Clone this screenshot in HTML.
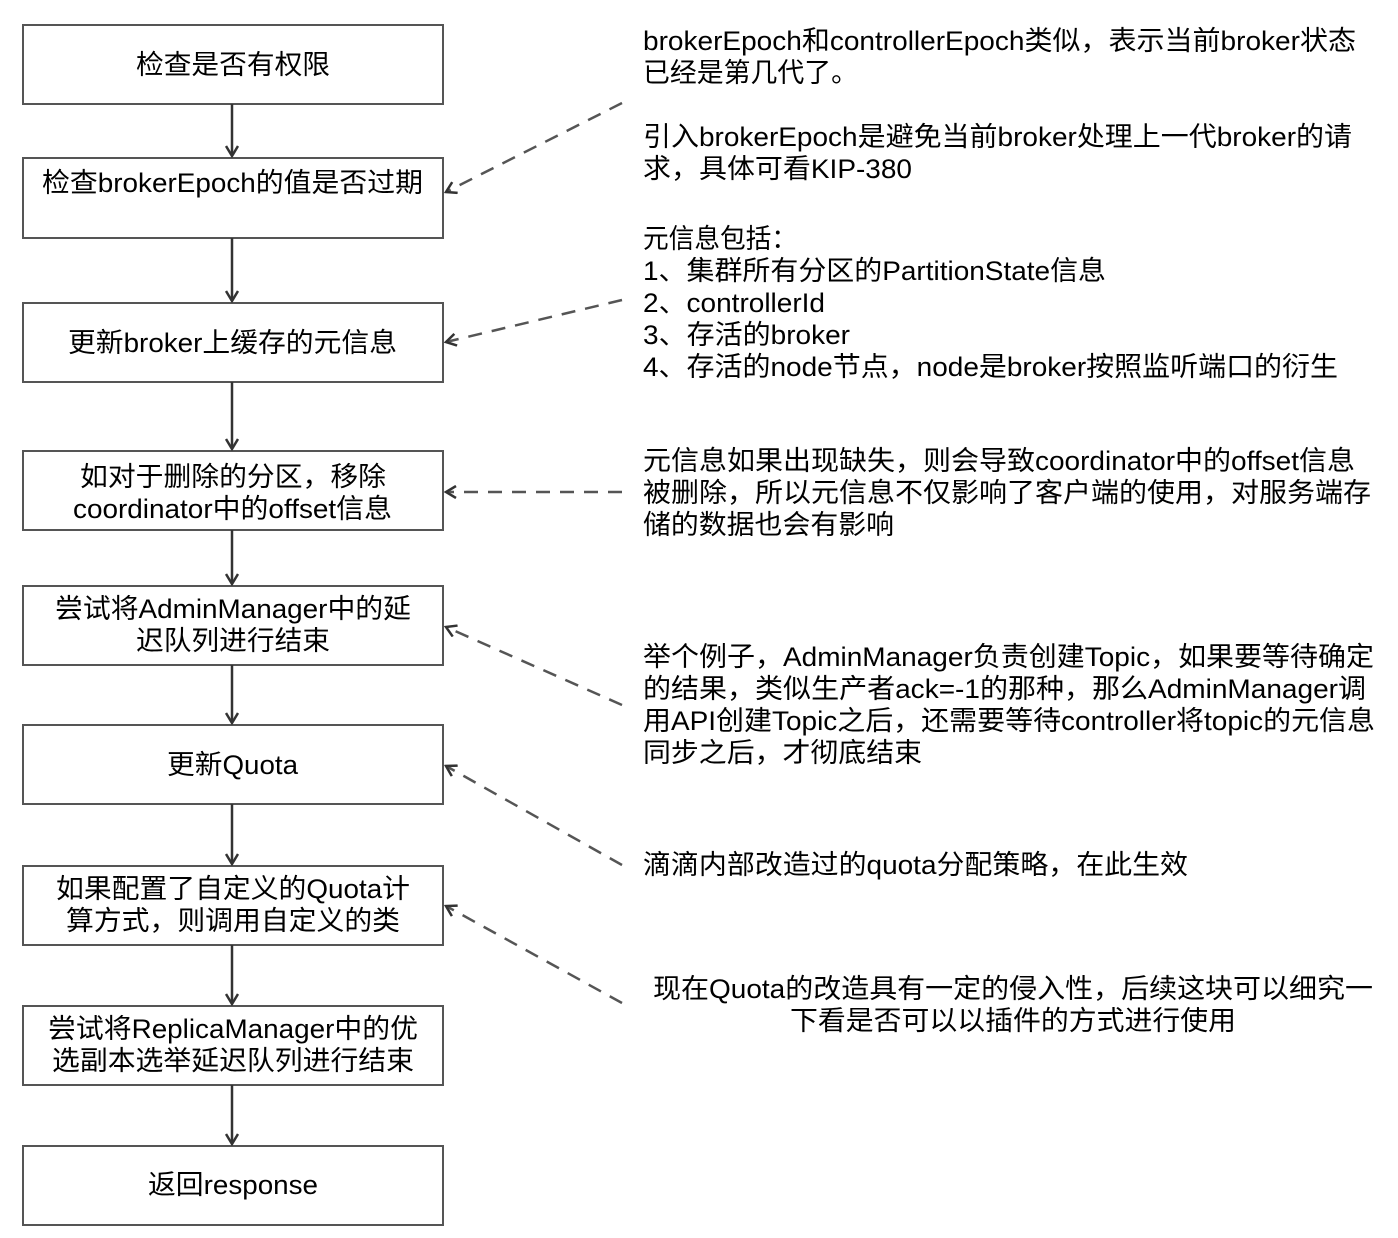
<!DOCTYPE html>
<html><head><meta charset="utf-8"><style>
body{margin:0;background:#fff;width:1398px;height:1238px;overflow:hidden}
svg{display:block}
text{font-family:"Liberation Sans","Noto Sans CJK SC",sans-serif;font-size:27px;fill:#000}
</style></head><body>
<svg width="1398" height="1238" viewBox="0 0 1398 1238">
<defs>
<marker id="a" markerWidth="14" markerHeight="14" refX="12" refY="7" orient="auto" markerUnits="userSpaceOnUse">
<path d="M2,1 L12,7 L2,13" fill="none" stroke="#333" stroke-width="2.5"/></marker>
</defs>
<g fill="#fff" stroke="#555" stroke-width="2">
<rect x="23" y="25" width="420" height="79"/>
<rect x="23" y="158" width="420" height="80"/>
<rect x="23" y="303" width="420" height="79"/>
<rect x="23" y="451" width="420" height="79"/>
<rect x="23" y="586" width="420" height="79"/>
<rect x="23" y="725" width="420" height="79"/>
<rect x="23" y="866" width="420" height="79"/>
<rect x="23" y="1006" width="420" height="79"/>
<rect x="23" y="1146" width="420" height="79"/>
</g>
<g stroke="#333" stroke-width="2.5" marker-end="url(#a)">
<line x1="232" y1="104" x2="232" y2="156"/>
<line x1="232" y1="238" x2="232" y2="301"/>
<line x1="232" y1="382" x2="232" y2="449"/>
<line x1="232" y1="530" x2="232" y2="584"/>
<line x1="232" y1="665" x2="232" y2="723"/>
<line x1="232" y1="804" x2="232" y2="864"/>
<line x1="232" y1="945" x2="232" y2="1004"/>
<line x1="232" y1="1085" x2="232" y2="1144"/>
</g>
<g stroke="#555" stroke-width="2.5" stroke-dasharray="14,10" marker-end="url(#a)">
<line x1="622" y1="103" x2="446" y2="192"/>
<line x1="622" y1="300" x2="446" y2="342"/>
<line x1="622" y1="492" x2="446" y2="492"/>
<line x1="622" y1="705" x2="446" y2="627"/>
<line x1="622" y1="865" x2="446" y2="766"/>
<line x1="622" y1="1003" x2="446" y2="906"/>
</g>
<g lengthAdjust="spacingAndGlyphs">
<text x="136" y="74" textLength="194" lengthAdjust="spacingAndGlyphs">检查是否有权限</text>
<text x="42" y="192" textLength="381" lengthAdjust="spacingAndGlyphs">检查brokerEpoch的值是否过期</text>
<text x="68" y="352" textLength="329" lengthAdjust="spacingAndGlyphs">更新broker上缓存的元信息</text>
<text x="80" y="486" textLength="306" lengthAdjust="spacingAndGlyphs">如对于删除的分区，移除</text>
<text x="73" y="518" textLength="319" lengthAdjust="spacingAndGlyphs">coordinator中的offset信息</text>
<text x="55" y="618" textLength="356" lengthAdjust="spacingAndGlyphs">尝试将AdminManager中的延</text>
<text x="136" y="650" textLength="194" lengthAdjust="spacingAndGlyphs">迟队列进行结束</text>
<text x="167" y="774" textLength="131" lengthAdjust="spacingAndGlyphs">更新Quota</text>
<text x="56" y="898" textLength="354" lengthAdjust="spacingAndGlyphs">如果配置了自定义的Quota计</text>
<text x="66" y="930" textLength="334" lengthAdjust="spacingAndGlyphs">算方式，则调用自定义的类</text>
<text x="48" y="1038" textLength="370" lengthAdjust="spacingAndGlyphs">尝试将ReplicaManager中的优</text>
<text x="52" y="1070" textLength="362" lengthAdjust="spacingAndGlyphs">选副本选举延迟队列进行结束</text>
<text x="148" y="1194" textLength="170" lengthAdjust="spacingAndGlyphs">返回response</text>

<text x="643" y="50" textLength="713" lengthAdjust="spacingAndGlyphs">brokerEpoch和controllerEpoch类似，表示当前broker状态</text>
<text x="643" y="82" textLength="215" lengthAdjust="spacingAndGlyphs">已经是第几代了。</text>
<text x="643" y="146" textLength="709" lengthAdjust="spacingAndGlyphs">引入brokerEpoch是避免当前broker处理上一代broker的请</text>
<text x="643" y="178" textLength="269" lengthAdjust="spacingAndGlyphs">求，具体可看KIP-380</text>
<text x="643" y="248" textLength="154" lengthAdjust="spacingAndGlyphs">元信息包括：</text>
<text x="643" y="280" textLength="463" lengthAdjust="spacingAndGlyphs">1、集群所有分区的PartitionState信息</text>
<text x="643" y="312" textLength="182" lengthAdjust="spacingAndGlyphs">2、controllerId</text>
<text x="643" y="344" textLength="207" lengthAdjust="spacingAndGlyphs">3、存活的broker</text>
<text x="643" y="376" textLength="695" lengthAdjust="spacingAndGlyphs">4、存活的node节点，node是broker按照监听端口的衍生</text>
<text x="643" y="470" textLength="712" lengthAdjust="spacingAndGlyphs">元信息如果出现缺失，则会导致coordinator中的offset信息</text>
<text x="643" y="502" textLength="728" lengthAdjust="spacingAndGlyphs">被删除，所以元信息不仅影响了客户端的使用，对服务端存</text>
<text x="643" y="534" textLength="251" lengthAdjust="spacingAndGlyphs">储的数据也会有影响</text>
<text x="643" y="666" textLength="731" lengthAdjust="spacingAndGlyphs">举个例子，AdminManager负责创建Topic，如果要等待确定</text>
<text x="643" y="698" textLength="723" lengthAdjust="spacingAndGlyphs">的结果，类似生产者ack=-1的那种，那么AdminManager调</text>
<text x="643" y="730" textLength="732" lengthAdjust="spacingAndGlyphs">用API创建Topic之后，还需要等待controller将topic的元信息</text>
<text x="643" y="762" textLength="279" lengthAdjust="spacingAndGlyphs">同步之后，才彻底结束</text>
<text x="643" y="874" textLength="545" lengthAdjust="spacingAndGlyphs">滴滴内部改造过的quota分配策略，在此生效</text>
<text x="653" y="998" textLength="720" lengthAdjust="spacingAndGlyphs">现在Quota的改造具有一定的侵入性，后续这块可以细究一</text>
<text x="790" y="1030" textLength="446" lengthAdjust="spacingAndGlyphs">下看是否可以以插件的方式进行使用</text>
</g>
</svg>
</body></html>
